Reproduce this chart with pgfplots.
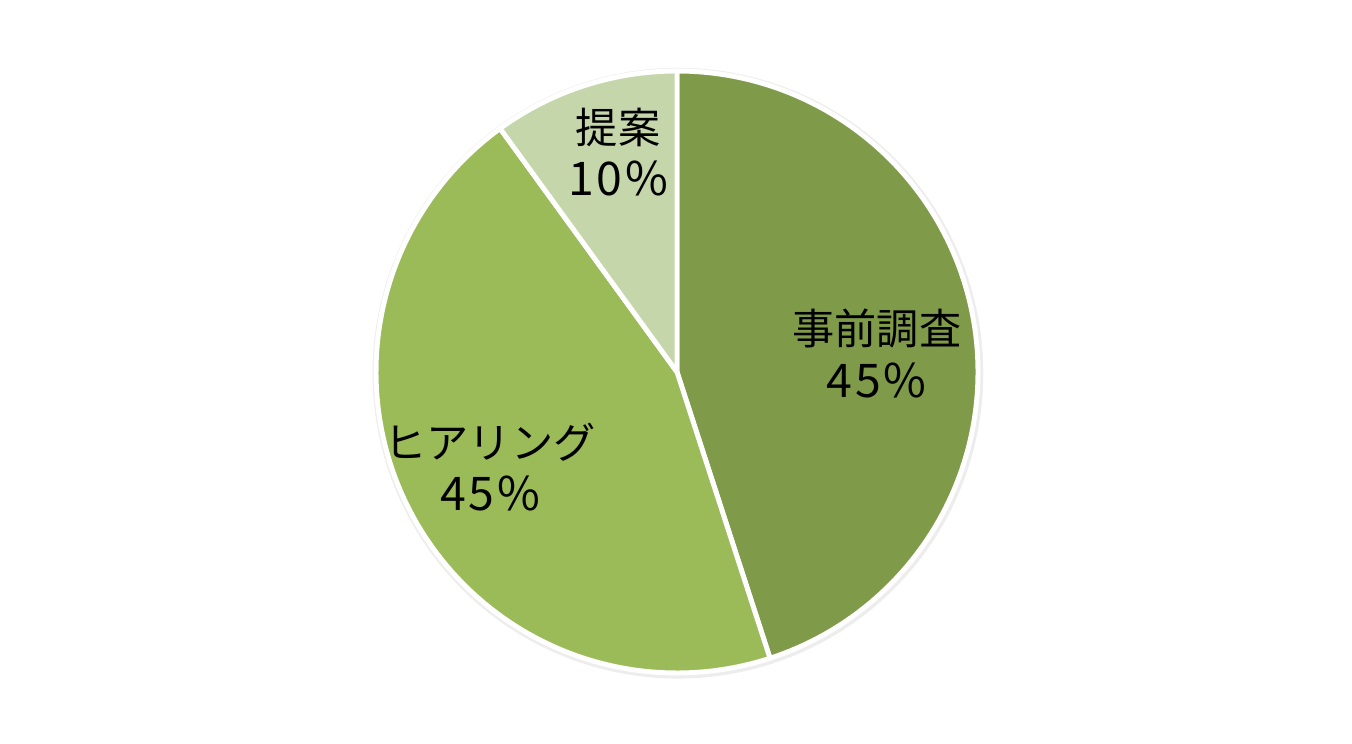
\documentclass[border=0pt]{standalone}
\usepackage{pgfplots}
\pgfplotsset{compat=1.18}
\usepackage{fontspec}
\setmainfont{Noto Sans CJK JP}

\definecolor{cA}{RGB}{127,154,72}
\definecolor{cB}{RGB}{155,187,89}
\definecolor{cC}{RGB}{197,214,171}

% shares in percent
\def\pA{45}\def\pB{45}\def\pC{10}
\newcommand{\pct}[1]{{\fontsize{13.2}{15}\selectfont\addfontfeature{LetterSpace=6}#1\%}}

\begin{document}
\begin{tikzpicture}
\pgfmathsetmacro{\aA}{90}
\pgfmathsetmacro{\aB}{90-3.6*\pA}
\pgfmathsetmacro{\aC}{\aB-3.6*\pB}
\pgfmathsetmacro{\aD}{\aC-3.6*\pC}
\begin{axis}[
    scale only axis,
    width=13.52cm, height=7.44cm,
    xmin=-2.2492, xmax=2.2425,
    ymin=-1.2359, ymax=1.2359,
    hide axis, clip=false,
    ]
    \path (rel axis cs:0,0) rectangle (rel axis cs:1,1);
    % faint shadow round the pie
    \addplot[draw=black!7, line width=2pt, domain=0:360, samples=181, variable=\t]
        ({0.003+1.003*cos(t)},{-0.004+1.003*sin(t)});
    \addplot[fill=cA, draw=white, line width=1.4pt, line join=round, domain=\aB:\aA, samples=120, variable=\t]
        ({cos(t)},{sin(t)}) -- (axis cs:0,0) -- cycle;
    \addplot[fill=cB, draw=white, line width=1.4pt, line join=round, domain=\aC:\aB, samples=120, variable=\t]
        ({cos(t)},{sin(t)}) -- (axis cs:0,0) -- cycle;
    \addplot[fill=cC, draw=white, line width=1.4pt, line join=round, domain=\aD:\aC, samples=40, variable=\t]
        ({cos(t)},{sin(t)}) -- (axis cs:0,0) -- cycle;
    \node[align=center, font=\fontsize{12}{15}\selectfont] at (axis cs:0.664,0.062) {事前調査\\\pct{\pA}};
    \node[align=center, font=\fontsize{12}{15}\selectfont] at (axis cs:-0.621,-0.316) {ヒアリング\\\pct{\pB}};
    \node[align=center, font=\fontsize{12}{15}\selectfont] at (axis cs:-0.196,0.731) {提案\\\pct{\pC}};
\end{axis}
\end{tikzpicture}
\end{document}
